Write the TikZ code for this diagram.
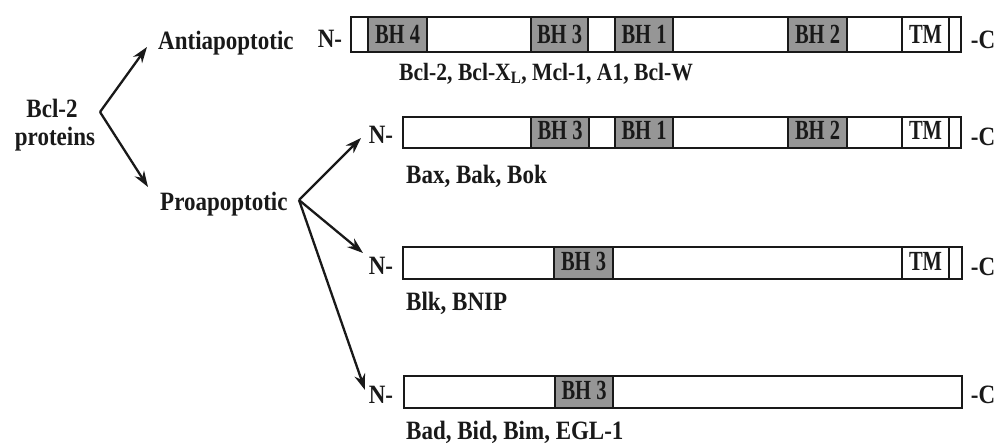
\documentclass[tikz,border=0pt]{standalone}
\usepackage{fontspec}
\setmainfont{Liberation Serif}
\usetikzlibrary{arrows.meta}
\definecolor{bhgray}{RGB}{150,150,150}
\definecolor{ink}{RGB}{25,25,25}
\newcommand\tallA[1]{\scalebox{1}[1.15]{#1}}
\newcommand\tallB[1]{\scalebox{1}[1.35]{#1}}
\begin{document}
\begin{tikzpicture}[x=1pt,y=-1pt,
  lbl/.style={inner sep=0pt, text=ink, font=\fontsize{23}{26}\selectfont\bfseries},
  bhlbl/.style={inner sep=0pt, text=ink, font=\fontsize{20.5}{24}\selectfont\bfseries},
  barline/.style={draw=ink, line width=2.2pt},
  bh/.style={barline, fill=bhgray},
  arr/.style={draw=ink, line width=2.3pt, -{Stealth[length=16pt,width=11pt]}}]
\fill[white] (0,0) rectangle (1000,444);
\useasboundingbox (0,0) rectangle (1000,444);

% ---------- left labels ----------
\node[lbl, anchor=base] (bcl) at (52,117) {\tallA{Bcl-2}};
\node[lbl, anchor=base] (prot) at (55,145) {\tallA{proteins}};
\node[lbl, anchor=base west] (anti) at (158,50) {\tallA{Antiapoptotic}};
\node[lbl, anchor=base west] (pro) at (160,210) {\tallA{Proapoptotic}};

\coordinate (v1) at (100,112);
\coordinate (v2) at (299,200);
\coordinate (antiTip) at (147,47);
\coordinate (proTip) at (148,187);
\coordinate (r2Tip) at (361,138);
\coordinate (r3Tip) at (363,253);
\coordinate (r4Tip) at (365,390);

% ---------- row 1 ----------
\draw[barline, fill=white] (351,17) rectangle (961,52);
\draw[bh] (368,17) rectangle (427,52);
\draw[bh] (531,17) rectangle (588,52);
\draw[bh] (615,17) rectangle (673,52);
\draw[bh] (788,17) rectangle (847,52);
\draw[barline] (902,17) rectangle (949,52);
\node[bhlbl] (r1bh4) at (397.5,34) {\tallB{BH 4}};
\node[bhlbl] (r1bh3) at (559.5,34) {\tallB{BH 3}};
\node[bhlbl] (r1bh1) at (644,34) {\tallB{BH 1}};
\node[bhlbl] (r1bh2) at (817.5,34) {\tallB{BH 2}};
\node[bhlbl] (r1tm) at (925.5,34) {\tallB{TM}};
\node[lbl] (r1n) at (330,39) {\tallA{N-}};
\node[lbl] (r1c) at (983,40) {\tallA{-C}};
\node[lbl, anchor=base west, font=\fontsize{21.6}{24}\selectfont\bfseries] (r1name) at (399,80) {\tallA{Bcl-2, Bcl-X\textsubscript{L}, Mcl-1, A1, Bcl-W}};

% ---------- row 2 ----------
\draw[barline, fill=white] (403,117) rectangle (961,148);
\draw[bh] (531,117) rectangle (589,148);
\draw[bh] (615,117) rectangle (673,148);
\draw[bh] (788,117) rectangle (847,148);
\draw[barline] (902,117) rectangle (949,148);
\node[bhlbl] (r2bh3) at (560,130) {\tallB{BH 3}};
\node[bhlbl] (r2bh1) at (644,130) {\tallB{BH 1}};
\node[bhlbl] (r2bh2) at (817.5,130) {\tallB{BH 2}};
\node[bhlbl] (r2tm) at (925.5,130) {\tallB{TM}};
\node[lbl] (r2n) at (381,135) {\tallA{N-}};
\node[lbl] (r2c) at (983,137) {\tallA{-C}};
\node[lbl, anchor=base west] (r2name) at (406,183) {\tallA{Bax, Bak, Bok}};

% ---------- row 3 ----------
\draw[barline, fill=white] (403,247) rectangle (962,279);
\draw[bh] (554,247) rectangle (613,279);
\draw[barline] (902,247) rectangle (949,279);
\node[bhlbl] (r3bh3) at (583.5,261) {\tallB{BH 3}};
\node[bhlbl] (r3tm) at (925.5,261) {\tallB{TM}};
\node[lbl] (r3n) at (381,266) {\tallA{N-}};
\node[lbl] (r3c) at (983,267) {\tallA{-C}};
\node[lbl, anchor=base west] (r3name) at (406,310) {\tallA{Blk, BNIP}};

% ---------- row 4 ----------
\draw[barline, fill=white] (404,376) rectangle (962,408);
\draw[bh] (555,376) rectangle (613,408);
\node[bhlbl] (r4bh3) at (584,390) {\tallB{BH 3}};
\node[lbl] (r4n) at (381,395) {\tallA{N-}};
\node[lbl] (r4c) at (983,395) {\tallA{-C}};
\node[lbl, anchor=base west] (r4name) at (406,439) {\tallA{Bad, Bid, Bim, EGL-1}};

% ---------- arrows ----------
\draw[arr] (v1) -- (antiTip);
\draw[arr] (v1) -- (proTip);
\draw[arr] (v2) -- (r2Tip);
\draw[arr] (v2) -- (r3Tip);
\draw[arr] (v2) -- (r4Tip);
\end{tikzpicture}
\end{document}
